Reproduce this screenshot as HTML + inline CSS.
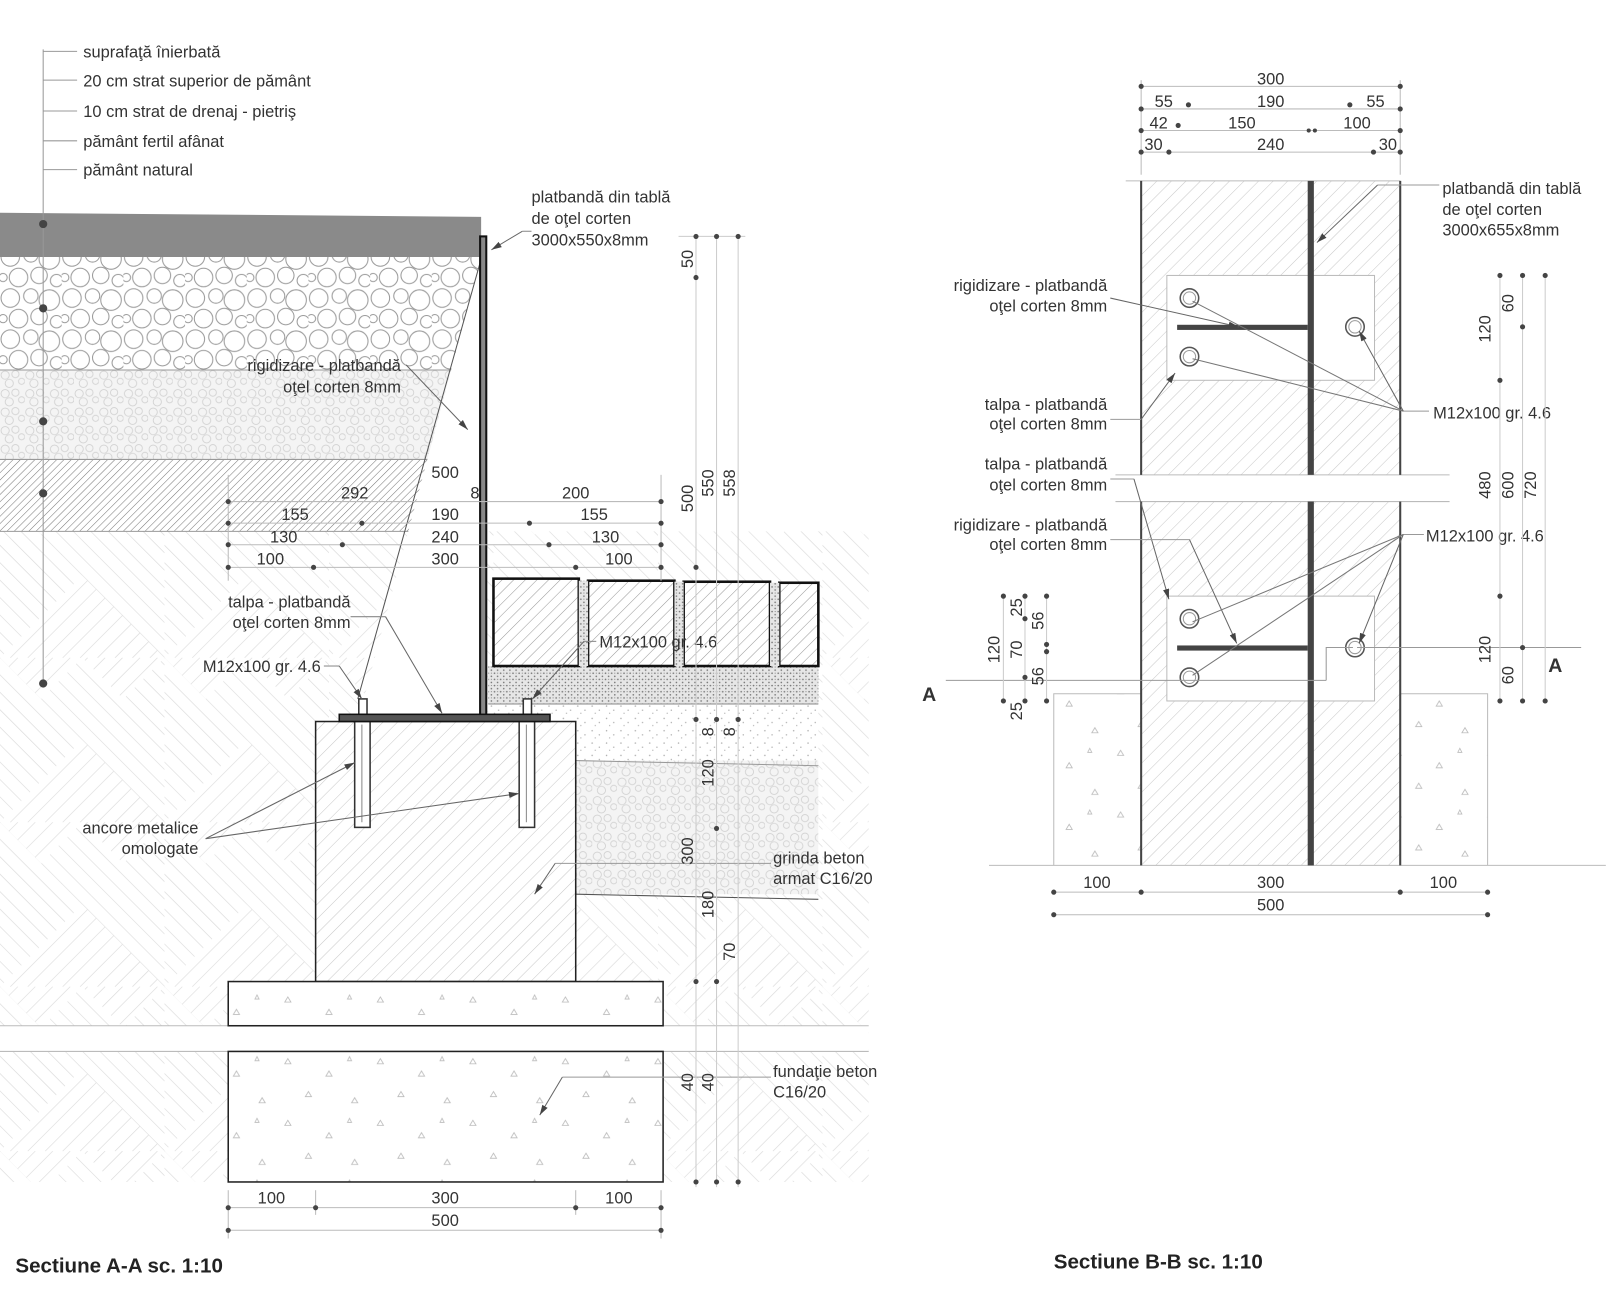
<!DOCTYPE html>
<html><head><meta charset="utf-8"><style>
html,body{margin:0;padding:0;background:#fff}
svg{display:block}
text{font-family:"Liberation Sans",sans-serif;fill:#333;font-size:16px}
.n{font-size:17px}
</style></head><body>
<svg width="1612" height="1294" viewBox="0 0 1568 1259" preserveAspectRatio="none" xmlns="http://www.w3.org/2000/svg">
<defs>
<pattern id="circ" width="60" height="40" patternUnits="userSpaceOnUse">
<rect width="60" height="40" fill="#fff"/>
<g fill="none" stroke="#999" stroke-width="1">
<circle cx="10" cy="10" r="9"/><circle cx="30" cy="8" r="7"/><circle cx="48" cy="12" r="10"/>
<circle cx="18" cy="30" r="9"/><circle cx="38" cy="28" r="8"/><circle cx="55" cy="33" r="6"/><circle cx="3" cy="30" r="4"/></g></pattern>
<pattern id="scirc" width="24" height="18" patternUnits="userSpaceOnUse">
<rect width="24" height="18" fill="#f4f4f4"/>
<g fill="none" stroke="#d0d0d0" stroke-width="0.8">
<circle cx="5" cy="5" r="4"/><circle cx="15" cy="4" r="3.5"/><circle cx="21" cy="11" r="3"/><circle cx="9" cy="13" r="4"/></g></pattern>
<pattern id="h45" width="8" height="8" patternUnits="userSpaceOnUse" patternTransform="rotate(45)">
<rect width="8" height="8" fill="#fff"/><line x1="0" y1="0" x2="0" y2="8" stroke="#999" stroke-width="1"/></pattern>
<pattern id="h45d" width="5" height="5" patternUnits="userSpaceOnUse" patternTransform="rotate(45)">
<rect width="5" height="5" fill="#fff"/><line x1="0" y1="0" x2="0" y2="5" stroke="#777" stroke-width="1"/></pattern>
<pattern id="h45l" width="10" height="10" patternUnits="userSpaceOnUse" patternTransform="rotate(45)">
<rect width="10" height="10" fill="#fff"/><line x1="0" y1="0" x2="0" y2="10" stroke="#c8c8c8" stroke-width="1"/></pattern>
<pattern id="hA" width="12" height="12" patternUnits="userSpaceOnUse" patternTransform="rotate(45)">
<rect width="12" height="12" fill="#fff"/><line x1="0" y1="0" x2="0" y2="12" stroke="#d2d2d2" stroke-width="1"/></pattern>
<pattern id="hB" width="12" height="12" patternUnits="userSpaceOnUse" patternTransform="rotate(-45)">
<rect width="12" height="12" fill="#fff"/><line x1="0" y1="0" x2="0" y2="12" stroke="#d2d2d2" stroke-width="1"/></pattern>
<pattern id="herr" width="160" height="160" patternUnits="userSpaceOnUse">
<rect width="160" height="160" fill="url(#hA)"/>
<polygon points="0,0 80,80 0,160" fill="url(#hB)"/>
<polygon points="160,0 80,80 160,160" fill="url(#hB)"/>
<polygon points="80,0 120,40 80,80 40,40" fill="url(#hB)"/>
</pattern>
<pattern id="dots" width="14" height="12" patternUnits="userSpaceOnUse">
<rect width="14" height="12" fill="#fff"/><g fill="#aaa"><circle cx="2" cy="3" r="0.7"/><circle cx="9" cy="7" r="0.7"/><circle cx="5" cy="10" r="0.6"/></g></pattern>
<pattern id="sand" width="6" height="6" patternUnits="userSpaceOnUse">
<rect width="6" height="6" fill="#e6e6e6"/><g fill="#777"><circle cx="1" cy="1" r="0.8"/><circle cx="4" cy="4" r="0.8"/><circle cx="4" cy="1" r="0.5"/></g></pattern>
<pattern id="conc" width="90" height="60" patternUnits="userSpaceOnUse">
<rect width="90" height="60" fill="#fff"/><g fill="none" stroke="#bbb" stroke-width="0.8">
<path d="M10 10l3 5h-6z M50 22l3 5h-6z M30 42l3 5h-6z M75 48l3 5h-6z M70 8l2 4h-4z"/></g></pattern>
<marker id="ar" viewBox="0 0 10 10" refX="10" refY="5" markerWidth="10" markerHeight="10" orient="auto-start-reverse">
<path d="M0 2L10 5L0 8z" fill="#444"/></marker>
</defs>

<!-- ===== LEFT SECTION ===== -->
<rect x="0" y="517" width="845" height="636" fill="url(#herr)"/>
<rect x="0" y="998" width="845" height="25" fill="#fff"/>
<line x1="0" y1="998" x2="845" y2="998" stroke="#bbb"/>
<line x1="0" y1="1023" x2="845" y2="1023" stroke="#bbb"/>
<rect x="0" y="1150" width="850" height="20" fill="#fff"/>
<polygon points="0,250 468,250 440,360 0,360" fill="url(#circ)"/>
<polygon points="0,360 440,360 420,447 0,447" fill="url(#scirc)"/>
<polygon points="0,447 420,447 405,517 0,517" fill="url(#h45d)"/>
<line x1="0" y1="360" x2="455" y2="360" stroke="#999"/>
<line x1="0" y1="447" x2="430" y2="447" stroke="#999"/>
<line x1="0" y1="517" x2="410" y2="517" stroke="#999"/>
<polygon points="0,207 468,211 468,250 0,250" fill="#8a8a8a"/>
<polygon points="468,250 470,250 470,695 350,695" fill="#fff"/>
<line x1="468" y1="252" x2="348" y2="680" stroke="#555" stroke-width="1"/>
<rect x="475" y="648" width="321" height="37" fill="url(#sand)"/>
<rect x="475" y="685" width="321" height="55" fill="url(#dots)"/>
<rect x="560" y="740" width="236" height="130" fill="url(#scirc)"/>
<line x1="475" y1="685" x2="796" y2="685" stroke="#888"/>
<line x1="560" y1="740" x2="796" y2="745" stroke="#999"/>
<line x1="560" y1="870" x2="796" y2="875" stroke="#555"/>
<g stroke="#111" stroke-width="2.5" fill="url(#h45)">
<rect x="480" y="563" width="83" height="85"/><rect x="572" y="565" width="84" height="83"/>
<rect x="665" y="566" width="84" height="82"/><rect x="758" y="567" width="38" height="81"/></g>
<rect x="563" y="565" width="9" height="83" fill="url(#sand)"/><rect x="656" y="566" width="9" height="82" fill="url(#sand)"/><rect x="749" y="567" width="9" height="81" fill="url(#sand)"/>
<rect x="307" y="702" width="253" height="253" fill="url(#h45l)" stroke="#222" stroke-width="1.5"/>
<rect x="222" y="955" width="423" height="43" fill="url(#conc)" stroke="#222" stroke-width="1.5"/>
<rect x="222" y="1023" width="423" height="127" fill="url(#conc)" stroke="#222" stroke-width="1.5"/>
<g fill="#fff" stroke="#333" stroke-width="1.5">
<rect x="345" y="702" width="15" height="103"/><rect x="505" y="702" width="15" height="103"/>
<rect x="349" y="680" width="8" height="15"/><rect x="509" y="680" width="8" height="15"/></g>
<line x1="352" y1="705" x2="352" y2="800" stroke="#888"/><line x1="512" y1="705" x2="512" y2="800" stroke="#888"/>
<rect x="467" y="230" width="6" height="466" fill="#888" stroke="#111" stroke-width="2"/>
<rect x="330" y="695" width="205" height="7" fill="#555" stroke="#111" stroke-width="1.5"/>

<line x1="42" y1="48" x2="42" y2="665" stroke="#999"/>
<g stroke="#999"><line x1="42" y1="50" x2="75" y2="50"/><line x1="42" y1="78" x2="75" y2="78"/><line x1="42" y1="108" x2="75" y2="108"/><line x1="42" y1="137" x2="75" y2="137"/><line x1="42" y1="165" x2="75" y2="165"/></g>
<g fill="#444"><circle cx="42" cy="218" r="4"/><circle cx="42" cy="300" r="4"/><circle cx="42" cy="410" r="4"/><circle cx="42" cy="480" r="4"/><circle cx="42" cy="665" r="4"/></g>
<text x="81" y="56">suprafaţă înierbată</text>
<text x="81" y="84">20 cm strat superior de pământ</text>
<text x="81" y="114">10 cm strat de drenaj - pietriş</text>
<text x="81" y="143">pământ fertil afânat</text>
<text x="81" y="171">pământ natural</text>

<text x="517" y="197">platbandă din tablă</text>
<text x="517" y="218">de oţel corten</text>
<text x="517" y="239">3000x550x8mm</text>
<line x1="517" y1="225" x2="508" y2="225" stroke="#888"/>
<line x1="508" y1="225" x2="478" y2="243" stroke="#666" marker-end="url(#ar)"/>
<text x="390" y="361" text-anchor="end">rigidizare - platbandă</text>
<text x="390" y="382" text-anchor="end">oţel corten 8mm</text>
<line x1="395" y1="355" x2="455" y2="418" stroke="#666" marker-end="url(#ar)"/>
<text x="341" y="591" text-anchor="end">talpa - platbandă</text>
<text x="341" y="611" text-anchor="end">oţel corten 8mm</text>
<line x1="341" y1="600" x2="375" y2="600" stroke="#888"/>
<line x1="375" y1="600" x2="430" y2="694" stroke="#666" marker-end="url(#ar)"/>
<text x="312" y="654" text-anchor="end">M12x100 gr. 4.6</text>
<line x1="315" y1="648" x2="330" y2="648" stroke="#888"/>
<line x1="330" y1="648" x2="352" y2="680" stroke="#666" marker-end="url(#ar)"/>
<text x="583" y="630">M12x100 gr. 4.6</text>
<line x1="580" y1="624" x2="568" y2="624" stroke="#888"/>
<line x1="568" y1="624" x2="518" y2="680" stroke="#666" marker-end="url(#ar)"/>
<text x="193" y="811" text-anchor="end">ancore metalice</text>
<text x="193" y="831" text-anchor="end">omologate</text>
<line x1="200" y1="816" x2="345" y2="742" stroke="#666" marker-end="url(#ar)"/>
<line x1="200" y1="816" x2="505" y2="772" stroke="#666" marker-end="url(#ar)"/>
<text x="752" y="840">grinda beton</text>
<text x="752" y="860">armat C16/20</text>
<line x1="750" y1="840" x2="540" y2="840" stroke="#999"/>
<line x1="540" y1="840" x2="520" y2="870" stroke="#666" marker-end="url(#ar)"/>
<text x="752" y="1048">fundaţie beton</text>
<text x="752" y="1068">C16/20</text>
<line x1="750" y1="1048" x2="547" y2="1048" stroke="#999"/>
<line x1="547" y1="1048" x2="525" y2="1085" stroke="#666" marker-end="url(#ar)"/>

<g stroke="#bbb"><line x1="222" y1="488" x2="643" y2="488"/><line x1="222" y1="509" x2="643" y2="509"/><line x1="222" y1="530" x2="643" y2="530"/><line x1="222" y1="552" x2="643" y2="552"/>
<line x1="222" y1="462" x2="222" y2="565"/><line x1="643" y1="462" x2="643" y2="565"/></g>
<g fill="#444"><circle cx="222" cy="488" r="2.5"/><circle cx="222" cy="509" r="2.5"/><circle cx="222" cy="530" r="2.5"/><circle cx="222" cy="552" r="2.5"/>
<circle cx="643" cy="488" r="2.5"/><circle cx="643" cy="509" r="2.5"/><circle cx="643" cy="530" r="2.5"/><circle cx="643" cy="552" r="2.5"/>
<circle cx="352" cy="509" r="2.5"/><circle cx="515" cy="509" r="2.5"/><circle cx="333" cy="530" r="2.5"/><circle cx="534" cy="530" r="2.5"/><circle cx="305" cy="552" r="2.5"/><circle cx="560" cy="552" r="2.5"/></g>
<g class="n" text-anchor="middle">
<text x="433" y="465">500</text><text x="345" y="485">292</text><text x="462" y="485">8</text><text x="560" y="485">200</text>
<text x="287" y="506">155</text><text x="433" y="506">190</text><text x="578" y="506">155</text>
<text x="276" y="528">130</text><text x="433" y="528">240</text><text x="589" y="528">130</text>
<text x="263" y="549">100</text><text x="433" y="549">300</text><text x="602" y="549">100</text>
</g>
<g stroke="#ccc"><line x1="677" y1="230" x2="677" y2="1155"/><line x1="697" y1="230" x2="697" y2="1155"/><line x1="718" y1="230" x2="718" y2="1155"/>
<line x1="660" y1="230" x2="725" y2="230"/></g>
<g fill="#444"><circle cx="677" cy="230" r="2.5"/><circle cx="697" cy="230" r="2.5"/><circle cx="718" cy="230" r="2.5"/><circle cx="677" cy="270" r="2.5"/><circle cx="677" cy="552" r="2.5"/><circle cx="677" cy="700" r="2.5"/><circle cx="697" cy="700" r="2.5"/><circle cx="718" cy="700" r="2.5"/><circle cx="697" cy="806" r="2.5"/><circle cx="677" cy="955" r="2.5"/><circle cx="697" cy="955" r="2.5"/><circle cx="677" cy="1150" r="2.5"/><circle cx="697" cy="1150" r="2.5"/><circle cx="718" cy="1150" r="2.5"/></g>
<g class="n" text-anchor="middle">
<text transform="translate(674,252) rotate(-90)">50</text>
<text transform="translate(674,485) rotate(-90)">500</text>
<text transform="translate(694,470) rotate(-90)">550</text>
<text transform="translate(715,470) rotate(-90)">558</text>
<text transform="translate(694,712) rotate(-90)">8</text>
<text transform="translate(715,712) rotate(-90)">8</text>
<text transform="translate(694,752) rotate(-90)">120</text>
<text transform="translate(674,828) rotate(-90)">300</text>
<text transform="translate(694,880) rotate(-90)">180</text>
<text transform="translate(715,926) rotate(-90)">70</text>
<text transform="translate(674,1053) rotate(-90)">40</text>
<text transform="translate(694,1053) rotate(-90)">40</text>
</g>
<g stroke="#bbb"><line x1="222" y1="1175" x2="643" y2="1175"/><line x1="222" y1="1197" x2="643" y2="1197"/>
<line x1="222" y1="1158" x2="222" y2="1205"/><line x1="643" y1="1158" x2="643" y2="1205"/><line x1="307" y1="1158" x2="307" y2="1182"/><line x1="560" y1="1158" x2="560" y2="1182"/></g>
<g fill="#444"><circle cx="222" cy="1175" r="2.5"/><circle cx="307" cy="1175" r="2.5"/><circle cx="560" cy="1175" r="2.5"/><circle cx="643" cy="1175" r="2.5"/><circle cx="222" cy="1197" r="2.5"/><circle cx="643" cy="1197" r="2.5"/></g>
<g class="n" text-anchor="middle"><text x="264" y="1171">100</text><text x="433" y="1171">300</text><text x="602" y="1171">100</text><text x="433" y="1193">500</text></g>
<text x="15" y="1238" style="font-size:20px;font-weight:bold;fill:#222">Sectiune A-A sc. 1:10</text>

<!-- ===== RIGHT SECTION ===== -->
<rect x="1025" y="675" width="85" height="167" fill="url(#conc)"/>
<rect x="1362" y="675" width="85" height="167" fill="url(#conc)"/>
<path d="M1025 842V675H1110 M1362 675H1447V842" fill="none" stroke="#bbb"/>
<rect x="1110" y="176" width="252" height="666" fill="url(#h45l)"/>
<rect x="1085" y="462" width="325" height="26" fill="#fff"/>
<line x1="1085" y1="462" x2="1410" y2="462" stroke="#bbb"/><line x1="1085" y1="488" x2="1410" y2="488" stroke="#bbb"/>
<line x1="1095" y1="176" x2="1362" y2="176" stroke="#bbb"/>
<line x1="962" y1="842" x2="1562" y2="842" stroke="#bbb"/>
<g stroke="#444" stroke-width="2"><line x1="1110" y1="176" x2="1110" y2="462"/><line x1="1110" y1="488" x2="1110" y2="842"/><line x1="1362" y1="176" x2="1362" y2="462"/><line x1="1362" y1="488" x2="1362" y2="842"/></g>
<g fill="#fff" stroke="#bbb"><rect x="1135" y="268" width="202" height="102"/><rect x="1135" y="580" width="202" height="102"/></g>
<rect x="1272" y="176" width="6" height="286" fill="#444"/><rect x="1272" y="488" width="6" height="354" fill="#444"/>
<rect x="1145" y="316" width="127" height="5" fill="#444"/><rect x="1145" y="628" width="127" height="5" fill="#444"/>
<g fill="#fff" stroke="#555" stroke-width="1.5"><circle cx="1157" cy="290" r="9"/><circle cx="1157" cy="347" r="9"/><circle cx="1318" cy="318" r="9"/><circle cx="1157" cy="602" r="9"/><circle cx="1157" cy="659" r="9"/><circle cx="1318" cy="630" r="9"/></g>
<g fill="none" stroke="#999" stroke-width="1"><circle cx="1157" cy="290" r="6"/><circle cx="1157" cy="347" r="6"/><circle cx="1318" cy="318" r="6"/><circle cx="1157" cy="602" r="6"/><circle cx="1157" cy="659" r="6"/><circle cx="1318" cy="630" r="6"/></g>
<text x="1403" y="189">platbandă din tablă</text><text x="1403" y="209">de oţel corten</text><text x="1403" y="229">3000x655x8mm</text>
<line x1="1400" y1="180" x2="1340" y2="180" stroke="#999"/>
<line x1="1340" y1="180" x2="1281" y2="236" stroke="#666" marker-end="url(#ar)"/>
<text x="1077" y="283" text-anchor="end">rigidizare - platbandă</text><text x="1077" y="303" text-anchor="end">oţel corten 8mm</text>
<line x1="1080" y1="290" x2="1205" y2="318" stroke="#666" marker-end="url(#ar)"/>
<text x="1077" y="399" text-anchor="end">talpa - platbandă</text><text x="1077" y="418" text-anchor="end">oţel corten 8mm</text>
<line x1="1080" y1="408" x2="1110" y2="408" stroke="#999"/>
<line x1="1110" y1="408" x2="1143" y2="363" stroke="#666" marker-end="url(#ar)"/>
<text x="1394" y="407">M12x100 gr. 4.6</text>
<line x1="1390" y1="400" x2="1365" y2="400" stroke="#999"/>
<line x1="1365" y1="400" x2="1160" y2="293" stroke="#777"/>
<line x1="1365" y1="400" x2="1160" y2="349" stroke="#777"/>
<line x1="1365" y1="400" x2="1322" y2="322" stroke="#666" marker-end="url(#ar)"/>
<text x="1077" y="457" text-anchor="end">talpa - platbandă</text><text x="1077" y="477" text-anchor="end">oţel corten 8mm</text>
<line x1="1080" y1="466" x2="1103" y2="466" stroke="#999"/>
<line x1="1103" y1="466" x2="1137" y2="583" stroke="#666" marker-end="url(#ar)"/>
<text x="1077" y="516" text-anchor="end">rigidizare - platbandă</text><text x="1077" y="535" text-anchor="end">oţel corten 8mm</text>
<line x1="1080" y1="525" x2="1157" y2="525" stroke="#999"/>
<line x1="1157" y1="525" x2="1203" y2="626" stroke="#666" marker-end="url(#ar)"/>
<text x="1387" y="527">M12x100 gr. 4.6</text>
<line x1="1385" y1="520" x2="1365" y2="520" stroke="#999"/>
<line x1="1365" y1="520" x2="1160" y2="605" stroke="#777"/>
<line x1="1365" y1="520" x2="1160" y2="657" stroke="#777"/>
<line x1="1365" y1="520" x2="1322" y2="626" stroke="#666" marker-end="url(#ar)"/>
<text x="897" y="682" style="font-size:19px;font-weight:bold;fill:#333">A</text>
<text x="1506" y="654" style="font-size:19px;font-weight:bold;fill:#333">A</text>
<line x1="920" y1="662" x2="1290" y2="662" stroke="#999"/>
<path d="M1290 662V630H1316" fill="none" stroke="#999"/>
<line x1="1320" y1="630" x2="1538" y2="630" stroke="#999"/>
<g stroke="#bbb"><line x1="1110" y1="84" x2="1362" y2="84"/><line x1="1110" y1="106" x2="1362" y2="106"/><line x1="1110" y1="127" x2="1362" y2="127"/><line x1="1110" y1="148" x2="1362" y2="148"/>
<line x1="1110" y1="78" x2="1110" y2="170"/><line x1="1362" y1="78" x2="1362" y2="170"/></g>
<g fill="#444"><circle cx="1110" cy="84" r="2.5"/><circle cx="1362" cy="84" r="2.5"/><circle cx="1110" cy="106" r="2.5"/><circle cx="1362" cy="106" r="2.5"/><circle cx="1110" cy="127" r="2.5"/><circle cx="1362" cy="127" r="2.5"/><circle cx="1110" cy="148" r="2.5"/><circle cx="1362" cy="148" r="2.5"/>
<circle cx="1156" cy="102" r="2.5"/><circle cx="1313" cy="102" r="2.5"/><circle cx="1146" cy="122" r="2.5"/><circle cx="1273" cy="127" r="2"/><circle cx="1279" cy="127" r="2"/><circle cx="1137" cy="148" r="2.5"/><circle cx="1336" cy="148" r="2.5"/></g>
<g class="n" text-anchor="middle">
<text x="1236" y="82">300</text><text x="1132" y="104">55</text><text x="1236" y="104">190</text><text x="1338" y="104">55</text>
<text x="1127" y="125">42</text><text x="1208" y="125">150</text><text x="1320" y="125">100</text>
<text x="1122" y="146">30</text><text x="1236" y="146">240</text><text x="1350" y="146">30</text></g>
<g stroke="#bbb"><line x1="1025" y1="868" x2="1447" y2="868"/><line x1="1025" y1="890" x2="1447" y2="890"/></g>
<g fill="#444"><circle cx="1025" cy="868" r="2.5"/><circle cx="1110" cy="868" r="2.5"/><circle cx="1362" cy="868" r="2.5"/><circle cx="1447" cy="868" r="2.5"/><circle cx="1025" cy="890" r="2.5"/><circle cx="1447" cy="890" r="2.5"/></g>
<g class="n" text-anchor="middle"><text x="1067" y="864">100</text><text x="1236" y="864">300</text><text x="1404" y="864">100</text><text x="1236" y="886">500</text></g>
<g stroke="#ccc"><line x1="1459" y1="268" x2="1459" y2="682"/><line x1="1481" y1="268" x2="1481" y2="682"/><line x1="1503" y1="268" x2="1503" y2="682"/></g>
<g fill="#444"><circle cx="1459" cy="268" r="2.5"/><circle cx="1481" cy="268" r="2.5"/><circle cx="1503" cy="268" r="2.5"/><circle cx="1481" cy="318" r="2.5"/><circle cx="1459" cy="370" r="2.5"/><circle cx="1459" cy="580" r="2.5"/><circle cx="1481" cy="630" r="2.5"/><circle cx="1459" cy="682" r="2.5"/><circle cx="1481" cy="682" r="2.5"/><circle cx="1503" cy="682" r="2.5"/></g>
<g class="n" text-anchor="middle">
<text transform="translate(1472,295) rotate(-90)">60</text>
<text transform="translate(1450,320) rotate(-90)">120</text>
<text transform="translate(1450,472) rotate(-90)">480</text>
<text transform="translate(1472,472) rotate(-90)">600</text>
<text transform="translate(1494,472) rotate(-90)">720</text>
<text transform="translate(1450,632) rotate(-90)">120</text>
<text transform="translate(1472,657) rotate(-90)">60</text></g>
<g stroke="#ccc"><line x1="976" y1="580" x2="976" y2="682"/><line x1="997" y1="580" x2="997" y2="682"/><line x1="1018" y1="580" x2="1018" y2="682"/></g>
<g fill="#444"><circle cx="976" cy="580" r="2.5"/><circle cx="997" cy="580" r="2.5"/><circle cx="1018" cy="580" r="2.5"/><circle cx="997" cy="602" r="2.5"/><circle cx="1018" cy="627" r="2.5"/><circle cx="1018" cy="634" r="2.5"/><circle cx="997" cy="659" r="2.5"/><circle cx="976" cy="682" r="2.5"/><circle cx="997" cy="682" r="2.5"/><circle cx="1018" cy="682" r="2.5"/></g>
<g class="n" text-anchor="middle">
<text transform="translate(994,591) rotate(-90)">25</text>
<text transform="translate(1015,604) rotate(-90)">56</text>
<text transform="translate(972,632) rotate(-90)">120</text>
<text transform="translate(994,632) rotate(-90)">70</text>
<text transform="translate(1015,658) rotate(-90)">56</text>
<text transform="translate(994,692) rotate(-90)">25</text></g>
<text x="1025" y="1234" style="font-size:20px;font-weight:bold;fill:#222">Sectiune B-B  sc. 1:10</text>
</svg>
</body></html>
